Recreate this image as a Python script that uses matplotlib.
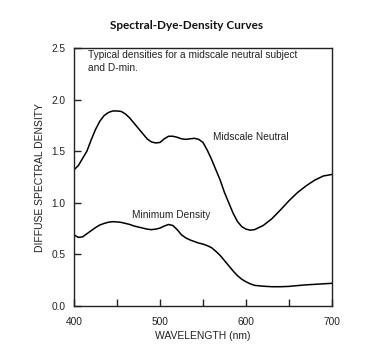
import matplotlib
matplotlib.use("Agg")
import matplotlib.pyplot as plt

# wavelength (nm) and diffuse spectral density
neutral_nm = [400, 405, 410, 415, 420, 425, 430, 435, 440, 445, 450, 455, 460, 465,
              470, 475, 480, 485, 490, 495, 500, 505, 510, 515, 520, 525, 530, 535,
              540, 545, 550, 555, 560, 565, 570, 575, 580, 585, 590, 595, 600, 605,
              610, 615, 620, 630, 640, 650, 660, 670, 680, 690, 700]
neutral_density = [1.32, 1.36, 1.43, 1.50, 1.61, 1.71, 1.79, 1.845, 1.875, 1.89, 1.89,
                   1.885, 1.86, 1.82, 1.77, 1.72, 1.67, 1.62, 1.59, 1.58, 1.585, 1.62,
                   1.645, 1.645, 1.635, 1.62, 1.615, 1.62, 1.625, 1.615, 1.585, 1.51,
                   1.42, 1.32, 1.22, 1.10, 1.00, 0.90, 0.82, 0.77, 0.745, 0.735, 0.74,
                   0.76, 0.78, 0.845, 0.93, 1.02, 1.10, 1.165, 1.22, 1.26, 1.275]

dmin_nm = [400, 405, 410, 415, 420, 425, 430, 435, 440, 445, 450, 455, 460, 465, 470,
           475, 480, 485, 490, 495, 500, 505, 510, 515, 520, 525, 530, 535, 540, 545,
           550, 555, 560, 565, 570, 575, 580, 585, 590, 595, 600, 605, 610, 620, 630,
           640, 650, 660, 670, 680, 690, 700]
dmin_density = [0.69, 0.665, 0.67, 0.70, 0.73, 0.76, 0.785, 0.80, 0.812, 0.817, 0.815,
                0.81, 0.80, 0.79, 0.775, 0.765, 0.755, 0.745, 0.74, 0.745, 0.755, 0.775,
                0.79, 0.78, 0.74, 0.69, 0.66, 0.64, 0.625, 0.61, 0.60, 0.585, 0.565,
                0.53, 0.49, 0.44, 0.39, 0.34, 0.295, 0.26, 0.235, 0.215, 0.20, 0.192,
                0.187, 0.187, 0.19, 0.198, 0.205, 0.21, 0.215, 0.22]

x_labels = [400, 500, 600, 700]
x_minor = [450, 550, 650]
y_ticks = [0.0, 0.5, 1.0, 1.5, 2.0, 2.5]

plt.rcParams['font.family'] = ['Liberation Sans', 'DejaVu Sans']

fig = plt.figure(figsize=(3.65, 3.53), dpi=100)
ax = fig.add_axes([0.2027, 0.1331, 0.7068, 0.7309])

ax.plot(neutral_nm, neutral_density, color='black', lw=1.1)
ax.plot(dmin_nm, dmin_density, color='black', lw=1.1)

ax.set_xlim(400, 700)
ax.set_ylim(0, 2.5)
ax.set_xticks(x_labels)
ax.set_xticks(x_minor, minor=True)
ax.set_yticks(y_ticks)
ax.set_yticklabels([f"{v:.1f}" for v in y_ticks])
ax.tick_params(which='both', direction='in', length=5, width=1, color='#222222',
               labelsize=7.3, labelcolor='#222222')
ax.tick_params(axis='x', pad=8)
ax.tick_params(axis='y', pad=6)
for s in ax.spines.values():
    s.set_linewidth(1.0)
    s.set_color('#222222')

ax.set_xlabel("WAVELENGTH (nm)", fontsize=7.5, color='#222222', labelpad=3)
ax.set_ylabel("DIFFUSE SPECTRAL DENSITY", fontsize=7.5, color='#222222', labelpad=5)

ax.text(416, 2.37, "Typical densities for a midscale neutral subject\nand D-min.",
        fontsize=7.3, color='#222222', va='center', ha='left', linespacing=1.35)
ax.text(562, 1.64, "Midscale Neutral", fontsize=7.3, color='#222222', va='center')
ax.text(467, 0.88, "Minimum Density", fontsize=7.3, color='#222222', va='center')

fig.text(0.511, 0.929, "Spectral-Dye-Density Curves", fontsize=8.5, fontweight='bold',
         family=['Lato', 'DejaVu Sans'], ha='center', va='center', color='#111111')

fig.savefig("out.png", dpi=100)
